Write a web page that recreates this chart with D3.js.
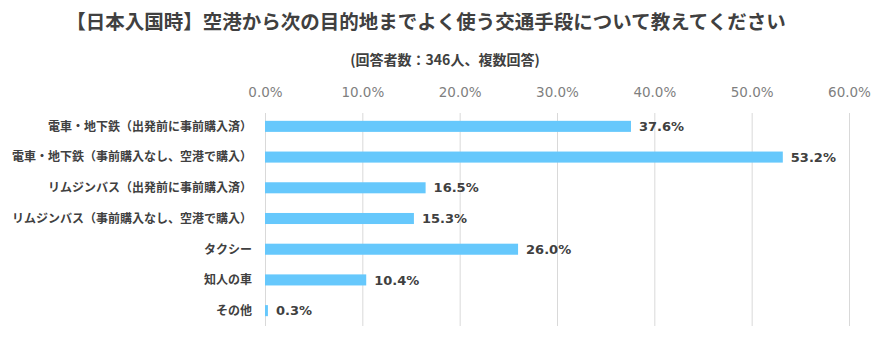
<!DOCTYPE html>
<html><head><meta charset="utf-8">
<script src="https://cdn.jsdelivr.net/npm/d3@7"></script>
<style>body{margin:0;background:#fff;}svg{display:block;}</style>
</head><body><div id="chart"></div>
<script>
const title = "【日本入国時】空港から次の目的地までよく使う交通手段について教えてください";
const subtitle = "(回答者数：346人、複数回答)";
const categories = ["電車・地下鉄（出発前に事前購入済）","電車・地下鉄（事前購入なし、空港で購入）","リムジンバス（出発前に事前購入済）","リムジンバス（事前購入なし、空港で購入）","タクシー","知人の車","その他"];
const values = [37.6, 53.2, 16.5, 15.3, 26.0, 10.4, 0.3];
const tickValues = [0, 10, 20, 30, 40, 50, 60];

const W = 885, H = 341;
const svg = d3.select("#chart").append("svg").attr("width", W).attr("height", H);
const jp = "'Noto Sans CJK JP','Noto Sans',sans-serif";
const num = "'DejaVu Sans',Verdana,sans-serif";

svg.append("text").attr("x", 426).attr("y", 29).attr("text-anchor","middle")
  .attr("font-family", jp).attr("font-weight","bold").attr("font-size", 19.5).attr("fill","#404040").text(title);
svg.append("text").attr("x", 445).attr("y", 65).attr("text-anchor","middle")
  .attr("font-family", jp).attr("font-weight","bold").attr("font-size", 14).attr("fill","#404040").text(subtitle);

const x = d3.scaleLinear().domain([0, 60]).range([265, 849]);
const y = d3.scaleBand().domain(categories).range([111, 326]).paddingInner(0.64).paddingOuter(0.32);

const axis = d3.axisTop(x).tickValues(tickValues).tickFormat(d => d.toFixed(1) + "%").tickSize(0).tickPadding(0);
const ga = svg.append("g").attr("transform", "translate(0,97)").call(axis);
ga.select(".domain").remove();
ga.selectAll("text").attr("font-family", num).attr("font-size", 13.5).attr("fill", "#7f7f7f");

const grid = d3.axisBottom(x).tickValues(tickValues).tickSize(326 - 113).tickFormat("");
const gg = svg.append("g").attr("transform", "translate(0,113)").call(grid);
gg.select(".domain").remove();
gg.selectAll("line").attr("stroke", "#d9d9d9").attr("stroke-width", 1);

svg.append("g").selectAll("rect").data(values).join("rect")
  .attr("x", x(0)).attr("y", (d,i) => y(categories[i]))
  .attr("width", d => x(d) - x(0)).attr("height", y.bandwidth())
  .attr("fill", "#66c8fc");

svg.append("g").selectAll("text").data(values).join("text")
  .attr("x", d => x(d) + 8).attr("y", (d,i) => y(categories[i]) + y.bandwidth()/2)
  .attr("dy", "0.36em").attr("font-family", num).attr("font-weight","bold").attr("font-size", 13)
  .attr("fill", "#404040").text(d => d.toFixed(1) + "%");

svg.append("g").selectAll("text").data(categories).join("text")
  .attr("x", 252).attr("y", d => y(d) + y.bandwidth()/2).attr("dy","0.36em")
  .attr("text-anchor","end").attr("font-family", jp).attr("font-weight","bold").attr("font-size", 12)
  .attr("fill", "#404040").text(d => d);
</script></body></html>
